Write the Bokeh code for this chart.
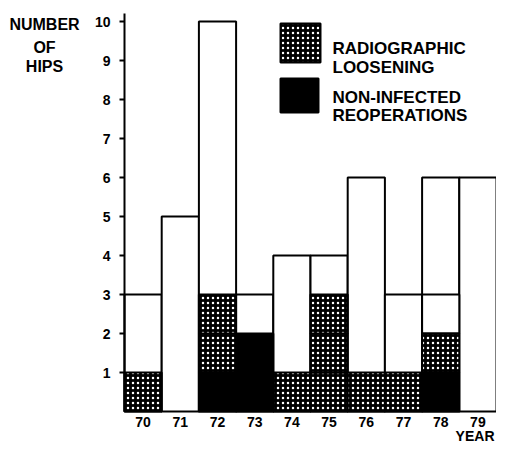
from bokeh.plotting import figure
from bokeh.models import Range1d, Label
from bokeh.embed import file_html
from bokeh.resources import INLINE

# ---- data ----
years = ["70", "71", "72", "73", "74", "75", "76", "77", "78", "79"]
total_hips = [3, 5, 10, 3, 4, 4, 6, 3, 6, 6]
reoperations = [0, 0, 1, 2, 0, 0, 0, 0, 1, 0]
loosening = [1, 0, 2, 0, 1, 3, 1, 1, 1, 0]
unmarked_lower = [0, 0, 0, 0, 0, 0, 0, 0, 1, 0]
y_ticks = [1, 2, 3, 4, 5, 6, 7, 8, 9, 10]

FONT = "Liberation Sans"
W, H = 496, 446
LEFT_PX, SX = 124.0, 37.2      # frame left pixel for x=-0.5, px per bar
ZERO_PX, SY = 411.0, 39.0      # pixel of y=0, px per unit


def X(px):
    return -0.5 + (px - LEFT_PX) / SX


def Y(py):
    return (ZERO_PX - py) / SY


p = figure(width=W, height=H, output_backend="svg", toolbar_location=None,
           x_range=Range1d(X(0), X(W)), y_range=Range1d(Y(H), Y(0)),
           min_border=0, min_border_left=0, min_border_right=0,
           min_border_top=0, min_border_bottom=0)
p.axis.visible = False
p.outline_line_color = None
p.xgrid.grid_line_color = None
p.ygrid.grid_line_color = None
p.background_fill_color = "white"

xs = list(range(len(years)))

# full bars (outline)
p.quad(left=[x - 0.5 for x in xs], right=[x + 0.5 for x in xs],
       bottom=[0] * len(xs), top=total_hips,
       fill_color="white", line_color="black", line_width=2)

# unit cells
bl, br, bb, bt = [], [], [], []
sl, sr, sb, st = [], [], [], []
ul, ur, ub, ut = [], [], [], []
for i, x in enumerate(xs):
    b = 0
    for _ in range(reoperations[i]):
        bl.append(x - 0.5); br.append(x + 0.5); bb.append(b); bt.append(b + 1); b += 1
    for _ in range(loosening[i]):
        sl.append(x - 0.5); sr.append(x + 0.5); sb.append(b); st.append(b + 1); b += 1
    for _ in range(unmarked_lower[i]):
        ul.append(x - 0.5); ur.append(x + 0.5); ub.append(b); ut.append(b + 1); b += 1

STIP = dict(fill_color="black", hatch_pattern="dot", hatch_color="white",
            hatch_scale=5, hatch_weight=3.5)
p.quad(left=ul, right=ur, bottom=ub, top=ut, fill_color="white",
       line_color="black", line_width=2)
p.quad(left=sl, right=sr, bottom=sb, top=st, line_color="black", line_width=2, **STIP)
p.quad(left=bl, right=br, bottom=bb, top=bt, fill_color="black",
       line_color="black", line_width=2)

# y axis: spine, ticks, labels
p.segment(x0=[-0.5], y0=[0], x1=[-0.5], y1=[Y(13)], line_color="black", line_width=2)
p.segment(x0=[X(119)] * len(y_ticks), y0=y_ticks, x1=[-0.5] * len(y_ticks), y1=y_ticks,
          line_color="black", line_width=2)
p.text(x=[X(110)] * len(y_ticks), y=y_ticks, text=[str(t) for t in y_ticks],
       text_font={"value": FONT}, text_font_style="bold", text_font_size="14px",
       text_align="right", text_baseline="middle", text_color="black")

# x labels
p.text(x=xs, y=[Y(416)] * len(xs), text=years,
       text_font={"value": FONT}, text_font_style="bold", text_font_size="14px",
       text_align="center", text_baseline="top", text_color="black")


def lab(px, py, t, size="16px", align="left", baseline="alphabetic"):
    p.add_layout(Label(x=X(px), y=Y(py), text=t, text_font=FONT, text_font_style="bold",
                       text_font_size=size, text_align=align, text_baseline=baseline,
                       text_color="black"))


# y title
lab(44, 24, "NUMBER", "16px", "center")
lab(44, 47, "OF", "16px", "center")
lab(44, 66, "HIPS", "16px", "center")
# x title
lab(494, 443, "YEAR", "14px", "right", "bottom")

# legend
p.quad(left=[X(280)], right=[X(320)], bottom=[Y(62)], top=[Y(23)],
       line_color="black", line_width=2, **STIP)
p.quad(left=[X(280)], right=[X(318)], bottom=[Y(112)], top=[Y(78)], fill_color="black",
       line_color="black", line_width=2)
lab(332, 48, "RADIOGRAPHIC", "17px")
lab(332, 67, "LOOSENING", "17px")
lab(332, 97, "NON-INFECTED", "17px")
lab(332, 115, "REOPERATIONS", "17px")

open("out.html", "w").write(file_html(p, INLINE))
